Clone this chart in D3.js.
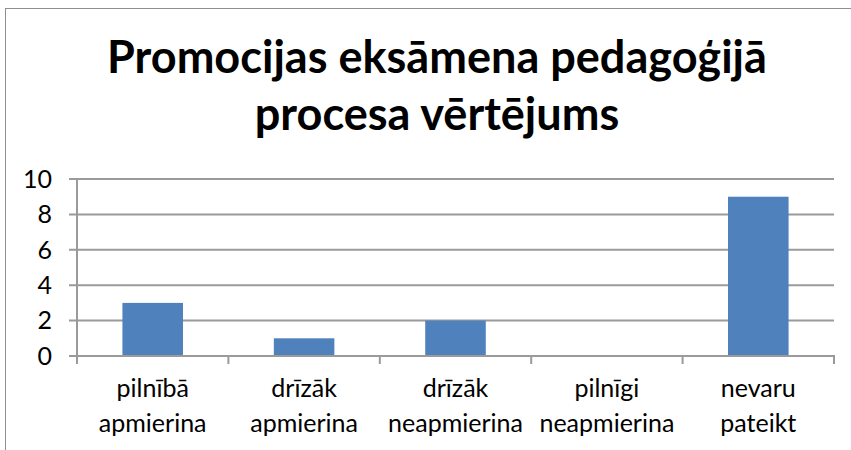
<!DOCTYPE html>
<html>
<head>
<meta charset="utf-8">
<script src="https://cdn.jsdelivr.net/npm/d3@7/dist/d3.min.js"></script>
<style>
  html, body { margin: 0; padding: 0; background: #fff; }
  svg { display: block; }
</style>
</head>
<body>
<svg id="chart" width="851" height="450"></svg>
<script>
// Survey answers and counts
const categories = [
  ["pilnībā", "apmierina"],
  ["drīzāk", "apmierina"],
  ["drīzāk", "neapmierina"],
  ["pilnīgi", "neapmierina"],
  ["nevaru", "pateikt"]
];
const counts = [3, 1, 2, 0, 9];
const yTicks = [0, 2, 4, 6, 8, 10];
const titleLines = ["Promocijas eksāmena pedagoģijā", "procesa vērtējums"];

const FONT = "Lato, 'Open Sans', sans-serif";
const svg = d3.select("#chart");

// font size that makes a string span a given width
function fitSize(text, weight, target) {
  const t = svg.append("text").attr("font-family", FONT)
    .attr("font-weight", weight).attr("font-size", 100).text(text);
  const w = t.node().getComputedTextLength();
  t.remove();
  return 100 * target / w;
}

// outer chart frame
svg.append("rect")
  .attr("x", 5.5).attr("y", 8.5)
  .attr("width", 900).attr("height", 500)
  .attr("fill", "none").attr("stroke", "#8f8f8f").attr("stroke-width", 1);

// title
const titleSize = fitSize(titleLines[0], "bold", 660);
svg.append("text")
  .attr("x", 437).attr("y", 73)
  .attr("text-anchor", "middle")
  .attr("font-family", FONT).attr("font-weight", "bold")
  .attr("font-size", titleSize).attr("fill", "#000")
  .selectAll("tspan").data(titleLines).join("tspan")
  .attr("x", 437).attr("dy", (d, i) => i === 0 ? 0 : 57)
  .text(d => d);

const plot = { left: 77, right: 834, top: 179, bottom: 356 };

const x = d3.scaleBand()
  .domain(d3.range(categories.length))
  .range([plot.left, plot.right])
  .paddingInner(0.6).paddingOuter(0.3);

const step = (plot.right - plot.left) / categories.length;

const y = d3.scaleLinear().domain([0, 10]).range([plot.bottom, plot.top]);

const GRID = "#9a9a9a";

// horizontal gridlines with left tick marks
svg.append("g").selectAll("line").data(yTicks.filter(v => v > 0)).join("line")
  .attr("x1", plot.left - 8).attr("x2", plot.right)
  .attr("y1", d => y(d)).attr("y2", d => y(d))
  .attr("stroke", GRID).attr("stroke-width", 2);

// bars
svg.append("g").selectAll("rect").data(counts).join("rect")
  .attr("x", (d, i) => x(i))
  .attr("width", x.bandwidth())
  .attr("y", d => y(d))
  .attr("height", d => y(0) - y(d))
  .attr("fill", "#4f81bd");

// value axis line
svg.append("line")
  .attr("x1", plot.left).attr("x2", plot.left)
  .attr("y1", plot.top).attr("y2", plot.bottom)
  .attr("stroke", GRID).attr("stroke-width", 2);

// category axis line with boundary ticks
svg.append("line")
  .attr("x1", plot.left - 8).attr("x2", plot.right + 1)
  .attr("y1", y(0)).attr("y2", y(0))
  .attr("stroke", GRID).attr("stroke-width", 2);
svg.append("g").selectAll("line").data(d3.range(categories.length + 1)).join("line")
  .attr("x1", i => plot.left + i * step).attr("x2", i => plot.left + i * step)
  .attr("y1", y(0)).attr("y2", y(0) + 8)
  .attr("stroke", GRID).attr("stroke-width", 2);

// value tick labels
const labelSize = fitSize("neapmierina", "normal", 135);
svg.append("g").selectAll("text").data(yTicks).join("text")
  .attr("x", 52).attr("y", d => y(d))
  .attr("dy", "0.35em")
  .attr("text-anchor", "end")
  .attr("font-family", FONT).attr("font-size", labelSize)
  .attr("fill", "#000")
  .text(d => d);

// category labels, two lines each
svg.append("g").selectAll("text").data(categories).join("text")
  .attr("text-anchor", "middle")
  .attr("font-family", FONT).attr("font-size", labelSize)
  .attr("fill", "#000")
  .each(function (d, i) {
    const cx = x(i) + x.bandwidth() / 2;
    d3.select(this).selectAll("tspan").data(d).join("tspan")
      .attr("x", cx)
      .attr("y", (s, j) => 397 + j * 35)
      .text(s => s);
  });
</script>
</body>
</html>
